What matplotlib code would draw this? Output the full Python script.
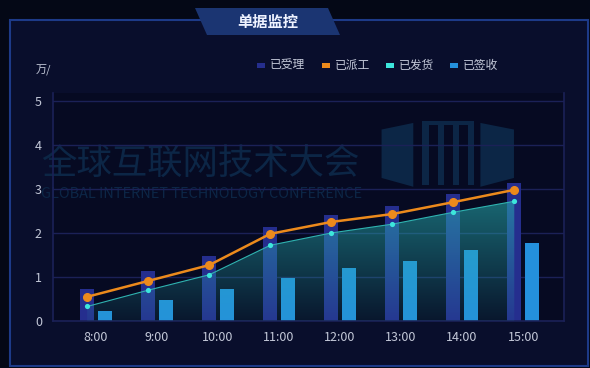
""" Order monitoring panel (单据监控)
"""

import matplotlib.pyplot as plt
import numpy as np
from matplotlib.patches import Polygon, Rectangle

plt.rcParams['font.family'] = ['Noto Sans CJK SC', 'DejaVu Sans']

hours = ['8:00', '9:00', '10:00', '11:00', '12:00', '13:00', '14:00', '15:00']
accepted = [0.73, 1.14, 1.48, 2.14, 2.41, 2.61, 2.89, 3.14]    # 已受理
dispatched = [0.55, 0.91, 1.27, 1.98, 2.25, 2.43, 2.70, 2.98]  # 已派工
shipped = [0.33, 0.70, 1.05, 1.72, 2.00, 2.20, 2.47, 2.72]     # 已发货
signed = [0.23, 0.48, 0.73, 0.98, 1.20, 1.36, 1.61, 1.77]      # 已签收
y_ticks = [0, 1, 2, 3, 4, 5]

bg = '#040816'
panel = '#090e2c'
inner = '#060a22'
grid_c = '#1b2157'
text_c = '#c3c8d8'
c_acc = '#252e8e'
c_disp = '#ec8a1c'
c_ship = '#3de6dc'
c_sign = '#2490dc'
wm_c = '#0c2646'


def draw_frame(fig):
    # outer panel with thin blue border
    fig.patches.append(Rectangle(
        (10 / 590, 2 / 368), 578 / 590, 346 / 368,
        transform=fig.transFigure, facecolor=panel,
        edgecolor='#1d3a88', lw=1.5, zorder=0
    ))
    # title tab
    tab = [(195, 8), (328, 8), (340, 35), (207, 35)]
    fig.patches.append(Polygon(
        [(x / 590, 1 - y / 368) for x, y in tab],
        closed=True, transform=fig.transFigure,
        facecolor='#1b3572', edgecolor='none', zorder=1
    ))
    fig.text(268 / 590, 1 - 22 / 368, '单据监控', color='#eef2ff',
             fontsize=11, ha='center', va='center', fontweight='bold')
    fig.text(36 / 590, 1 - 70 / 368, '万/', color=text_c,
             fontsize=8, ha='left', va='center')


def draw_watermark(ax):
    ax.text(-0.9, 3.55, '全球互联网技术大会', color=wm_c, fontsize=25.5,
            ha='left', va='center', zorder=0.5)
    ax.text(-0.9, 2.88, 'GLOBAL INTERNET TECHNOLOGY CONFERENCE',
            color=wm_c, fontsize=10.4, ha='left', va='center', zorder=0.5)
    # rough outline of the conference logo
    wing_l = [(4.68, 4.35), (5.2, 4.5), (5.2, 3.05), (4.68, 3.25)]
    wing_r = [(6.3, 4.5), (6.85, 4.35), (6.85, 3.25), (6.3, 3.05)]
    for wing in (wing_l, wing_r):
        ax.add_patch(Polygon(wing, closed=True, facecolor=wm_c,
                             edgecolor='none', zorder=0.5))
    for px in (5.35, 5.6, 5.85, 6.1):
        ax.add_patch(Rectangle((px, 3.1), 0.1, 1.45, facecolor=wm_c,
                               edgecolor='none', zorder=0.5))
    ax.add_patch(Rectangle((5.35, 4.45), 0.85, 0.1, facecolor=wm_c,
                           edgecolor='none', zorder=0.5))


def main():
    out_dpi = 100
    fig = plt.figure(figsize=(590 / out_dpi, 368 / out_dpi), dpi=out_dpi)
    fig.patch.set_facecolor(bg)
    draw_frame(fig)

    ax = fig.add_axes([53 / 590, 47 / 368, 511 / 590, 228 / 368])
    ax.set_zorder(3)
    ax.set_facecolor(inner)
    ax.set_xlim(-0.705, 7.67)
    ax.set_ylim(0, 5.18)
    draw_watermark(ax)

    x = np.arange(len(hours))
    off = 0.145
    w = 0.235
    ax.bar(x - off, accepted, width=w, color=c_acc, zorder=2)
    ax.bar(x + off, signed, width=w, color=c_sign, zorder=2)

    # gradient area under 已发货, teal fading downwards
    lx = x - off
    fill = ax.fill_between(lx, shipped, 0, color='none', zorder=3)
    rgba = np.zeros((256, 1, 4))
    rgba[..., 0] = 0.16
    rgba[..., 1] = 0.70
    rgba[..., 2] = 0.70
    rgba[..., 3] = np.linspace(0.55, 0.08, 256).reshape(-1, 1)
    img = ax.imshow(rgba, extent=[lx[0], lx[-1], 0, max(shipped)],
                    aspect='auto', origin='upper', zorder=3)
    img.set_clip_path(fill.get_paths()[0], transform=ax.transData)
    ax.plot(lx, shipped, color='#2fb3b0', lw=0.8, zorder=4)
    ax.scatter(lx, shipped, s=14, color=c_ship, zorder=5, linewidths=0)

    ax.plot(lx, dispatched, color=c_disp, lw=1.8, zorder=6,
            marker='o', markersize=5.5)

    ax.set_xticks(x)
    ax.set_xticklabels(hours)
    ax.set_yticks(y_ticks)
    ax.grid(axis='y', color=grid_c, lw=1, zorder=1)
    ax.set_axisbelow(True)
    ax.tick_params(colors=text_c, labelsize=9, length=0, pad=8)
    ax.tick_params(axis='x', pad=7)
    ax.spines['top'].set_visible(False)
    for side in ['left', 'bottom', 'right']:
        ax.spines[side].set_color(grid_c)
        ax.spines[side].set_linewidth(1.2)

    # legend, drawn by hand to match the spacing
    items = [('已受理', c_acc, 257), ('已派工', c_disp, 322),
             ('已发货', c_ship, 386), ('已签收', c_sign, 450)]
    for label, color, px in items:
        fig.patches.append(Rectangle(
            (px / 590, 1 - 68 / 368), 8 / 590, 5 / 368,
            transform=fig.transFigure, facecolor=color, edgecolor='none'))
        fig.text((px + 13) / 590, 1 - 65 / 368, label, color=text_c,
                 fontsize=8.5, ha='left', va='center')

    plt.savefig('out.png', dpi=out_dpi, facecolor=bg)


if __name__ == '__main__':
    main()
